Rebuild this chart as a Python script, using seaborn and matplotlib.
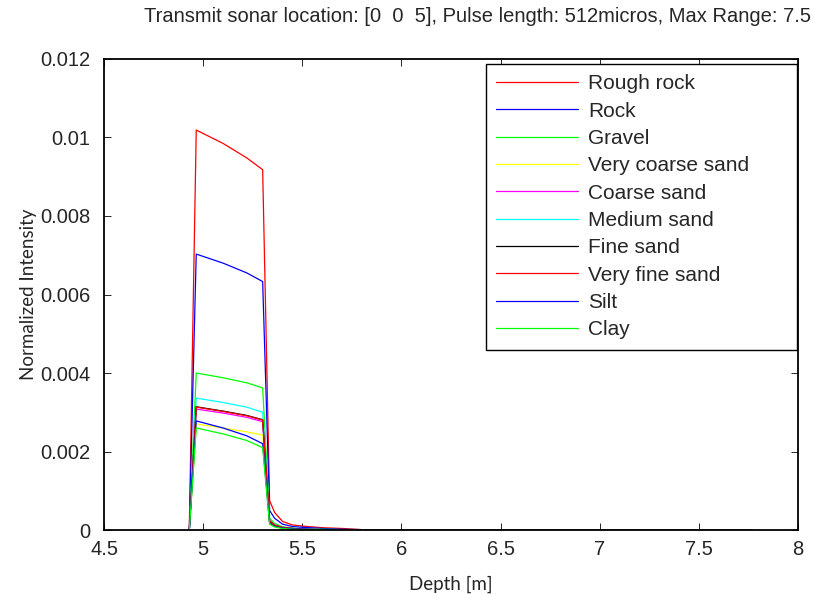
import pandas as pd
import seaborn as sns
import matplotlib.pyplot as plt

# depth samples [m] and normalized intensity (x1e-3) per seabed type
depth = [4.93, 4.965, 5.1, 5.22, 5.30, 5.335, 5.36, 5.40, 5.45, 5.5, 5.6, 5.7, 5.8, 6.0, 7.77]

materials = ['Rough rock', 'Rock', 'Gravel', 'Very coarse sand', 'Coarse sand',
             'Medium sand', 'Fine sand', 'Very fine sand', 'Silt', 'Clay']

rough_rock = [0, 10.19, 9.85, 9.48, 9.18, 0.75, 0.45, 0.22, 0.13, 0.10, 0.06, 0.04, 0.01, 0, 0]
rock = [0, 7.03, 6.80, 6.55, 6.33, 0.50, 0.30, 0.15, 0.09, 0.07, 0.04, 0.02, 0.01, 0, 0]
gravel = [0, 4.00, 3.88, 3.75, 3.62, 0.30, 0.17, 0.08, 0.05, 0.03, 0.02, 0.01, 0, 0, 0]
very_coarse_sand = [0, 2.70, 2.60, 2.50, 2.42, 0.18, 0.10, 0.05, 0.03, 0.02, 0.01, 0, 0, 0, 0]
coarse_sand = [0, 3.08, 2.98, 2.87, 2.76, 0.22, 0.12, 0.06, 0.04, 0.02, 0.01, 0, 0, 0, 0]
medium_sand = [0, 3.36, 3.25, 3.13, 3.00, 0.25, 0.14, 0.07, 0.04, 0.03, 0.01, 0, 0, 0, 0]
fine_sand = [0, 3.14, 3.03, 2.92, 2.81, 0.22, 0.12, 0.06, 0.04, 0.02, 0.01, 0, 0, 0, 0]
very_fine_sand = [0, 3.13, 3.02, 2.91, 2.80, 0.24, 0.13, 0.07, 0.04, 0.02, 0.01, 0, 0, 0, 0]
silt = [0, 2.78, 2.60, 2.40, 2.20, 0.16, 0.09, 0.05, 0.03, 0.02, 0.01, 0, 0, 0, 0]
clay = [0, 2.60, 2.45, 2.28, 2.10, 0.15, 0.08, 0.04, 0.02, 0.01, 0, 0, 0, 0, 0]

series = [rough_rock, rock, gravel, very_coarse_sand, coarse_sand,
          medium_sand, fine_sand, very_fine_sand, silt, clay]

colors = ['#ff0000', '#0000ff', '#00ff00', '#ffff00', '#ff00ff',
          '#00ffff', '#000000', '#ff0000', '#0000ff', '#00ff00']

rows = []
for name, vals in zip(materials, series):
    for d, v in zip(depth, vals):
        rows.append({'depth': d, 'intensity': v * 1e-3, 'material': name})
df = pd.DataFrame(rows)

sns.set_style("ticks")
plt.rcParams['font.family'] = ['Liberation Sans', 'DejaVu Sans']
plt.rcParams['xtick.direction'] = 'in'
plt.rcParams['ytick.direction'] = 'in'

fig = plt.figure(figsize=(8.14, 5.94), dpi=100)
ax = fig.add_axes([0.1278, 0.1077, 0.8526, 0.7930])

sns.lineplot(data=df, x='depth', y='intensity', hue='material', hue_order=materials,
             palette=colors, linewidth=0.9, sort=False, estimator=None, ax=ax)

ax.set_xlim(4.5, 8)
ax.set_ylim(0, 0.012)
ax.set_xticks([4.5, 5, 5.5, 6, 6.5, 7, 7.5, 8])
ax.set_xticklabels(['4.5', '5', '5.5', '6', '6.5', '7', '7.5', '8'])
ax.set_yticks([0, 0.002, 0.004, 0.006, 0.008, 0.01, 0.012])
ax.set_yticklabels(['0', '0.002', '0.004', '0.006', '0.008', '0.01', '0.012'])
ax.tick_params(labelsize=14.5, top=True, right=True, length=5, width=0.7)
ax.tick_params(axis='y', pad=10)
ax.tick_params(axis='x', pad=7)
for s in ax.spines.values():
    s.set_linewidth(1.3)
    s.set_color('black')

ax.set_xlabel('Depth [m]', fontsize=13.5, family='Lato', labelpad=12)
ax.set_ylabel('Normalized Intensity', fontsize=13.5, family='Lato', labelpad=2)

fig.text(0.586, 0.973, 'Transmit sonar location: [0  0  5], Pulse length: 512micros, Max Range: 7.5',
         ha='center', va='center', fontsize=14.5)

handles, labels = ax.get_legend_handles_labels()
leg = ax.legend(handles, labels, loc='upper left', mode='expand',
                bbox_to_anchor=(0.5504, 0.9894, 0.4482, 0.0),
                fontsize=15, handlelength=3.9, labelspacing=0.4, borderpad=0.5,
                handletextpad=0.5, frameon=True, fancybox=False, framealpha=1,
                edgecolor='black', borderaxespad=0)
leg.get_frame().set_linewidth(1.0)
for h in leg.get_lines():
    h.set_linewidth(0.9)

fig.savefig('out.png', dpi=100)
